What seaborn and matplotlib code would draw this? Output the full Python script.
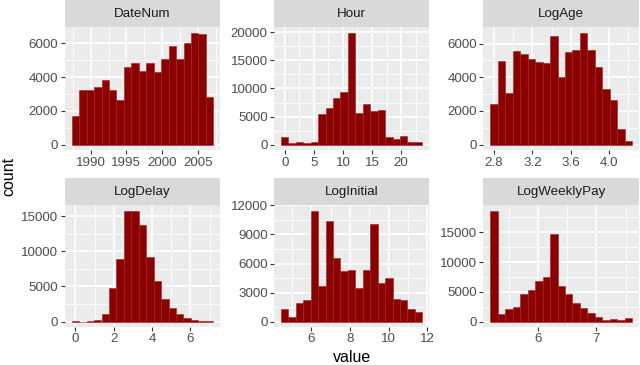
import numpy as np
import pandas as pd
import matplotlib
matplotlib.use("Agg")
import matplotlib.pyplot as plt
import seaborn as sns

plt.rcParams['font.family'] = ['Liberation Sans', 'DejaVu Sans']

# ---- data ----
variables = ["DateNum", "Hour", "LogAge", "LogDelay", "LogInitial", "LogWeeklyPay"]
# centre of first and last bin for each variable (19 bins each)
x_min = [1987.86, 0.0, 2.80, 0.0, 4.62, 5.236]
x_max = [2006.65, 23.0, 4.20, 7.0, 11.56, 7.551]

counts_datenum = [1683, 3228, 3208, 3386, 3822, 3248, 2673, 4594, 4812, 4337,
                  4812, 4297, 5069, 5822, 5050, 6020, 6614, 6574, 2812]
counts_hour = [1370, 300, 540, 300, 540, 5420, 6490, 8330, 9350, 19880,
               5650, 7200, 5950, 6250, 1310, 1010, 1490, 480, 420]
counts_logage = [2396, 4950, 3050, 5580, 5370, 5090, 4910, 4850, 6460, 4040,
                 5520, 5600, 6630, 5640, 4610, 3330, 2630, 910, 220]
counts_logdelay = [60, 10, 90, 200, 1090, 4780, 8900, 15760, 15760, 13720,
                   9180, 5770, 3270, 1940, 1090, 570, 280, 140, 80]
counts_loginitial = [1330, 480, 1970, 2240, 11450, 3670, 10430, 6530, 5230, 5300,
                     3430, 5300, 10100, 3940, 4550, 2310, 2240, 1260, 950]
counts_logweeklypay = [18600, 1220, 2050, 2380, 4590, 5370, 6750, 7470, 14720, 6030,
                       4590, 3210, 2320, 1440, 770, 280, 440, 330, 550]
all_counts = [counts_datenum, counts_hour, counts_logage,
              counts_logdelay, counts_loginitial, counts_logweeklypay]

x_ticks = [[1990, 1995, 2000, 2005], [0, 5, 10, 15, 20], [2.8, 3.2, 3.6, 4.0],
           [0, 2, 4, 6], [6, 8, 10, 12], [6, 7]]
x_tick_labels = [["1990", "1995", "2000", "2005"], ["0", "5", "10", "15", "20"],
                 ["2.8", "3.2", "3.6", "4.0"], ["0", "2", "4", "6"],
                 ["6", "8", "10", "12"], ["6", "7"]]
y_ticks = [[0, 2000, 4000, 6000], [0, 5000, 10000, 15000, 20000],
           [0, 2000, 4000, 6000], [0, 5000, 10000, 15000],
           [0, 3000, 6000, 9000, 12000], [0, 5000, 10000, 15000]]

x_title = "value"
y_title = "count"

# ---- style / layout ----
W, H = 640, 365
fig = plt.figure(figsize=(6.4, 3.65), dpi=100)
col_lr = [(64.6, 220.4), (273.9, 429.4), (483.2, 639.3)]
row_tb = [(27.3, 150.3), (205.2, 327.2)]
strip_h = 26.9
PANEL = "#EBEBEB"
STRIP = "#D9D9D9"
FILL = "#8B0000"


def minor_of(ticks):
    t = np.asarray(ticks, dtype=float)
    step = t[1] - t[0]
    return np.concatenate([[t[0] - step / 2], t[:-1] + step / 2, [t[-1] + step / 2]])


for i, var in enumerate(variables):
    r, c = divmod(i, 3)
    l, rgt = col_lr[c]
    top, bot = row_tb[r]
    ax = fig.add_axes([l / W, 1 - bot / H, (rgt - l) / W, (bot - top) / H])
    sax = fig.add_axes([l / W, 1 - top / H, (rgt - l) / W, strip_h / H])

    lo, hi = x_min[i], x_max[i]
    n = len(all_counts[i])
    w = (hi - lo) / (n - 1)
    df = pd.DataFrame({"value": np.linspace(lo, hi, n), "count": all_counts[i]})
    e0, e1 = lo - w / 2, hi + w / 2
    sns.histplot(data=df, x="value", weights="count", bins=n, binrange=(e0, e1),
                 ax=ax, color=FILL, edgecolor="#9E2222", linewidth=0.4, alpha=1.0)

    ax.set_facecolor(PANEL)
    for s in ax.spines.values():
        s.set_visible(False)
    ax.set_xticks(x_ticks[i])
    ax.set_xticklabels(x_tick_labels[i])
    ax.set_yticks(y_ticks[i])
    ax.set_yticklabels([str(v) for v in y_ticks[i]])
    ax.set_xticks(minor_of(x_ticks[i]), minor=True)
    ax.set_yticks(minor_of(y_ticks[i]), minor=True)

    span = e1 - e0
    ax.set_xlim(e0 - 0.05 * span, e1 + 0.05 * span)
    ymax = max(all_counts[i])
    ax.set_ylim(-0.05 * ymax, 1.05 * ymax)

    ax.grid(True, which="major", color="white", linewidth=1.2)
    ax.grid(True, which="minor", color="white", linewidth=0.6)
    ax.set_axisbelow(True)
    ax.tick_params(which="major", length=3, width=0.8, color="#333333",
                   labelcolor="#4D4D4D", labelsize=9.6, pad=1.5)
    ax.tick_params(which="minor", length=0)
    ax.set_xlabel("")
    ax.set_ylabel("")

    sax.set_facecolor(STRIP)
    sax.set_xticks([])
    sax.set_yticks([])
    for s in sax.spines.values():
        s.set_visible(False)
    sax.text(0.5, 0.5, var, ha="center", va="center", fontsize=9.6,
             color="#1A1A1A", transform=sax.transAxes)

fig.text(352 / W, 1 - 362.5 / H, x_title, ha="center", va="baseline",
         fontsize=11.5, color="black")
fig.text(8.5 / W, 1 - 176.5 / H, y_title, ha="center", va="center",
         rotation=90, fontsize=11.5, color="black")

fig.savefig("out.png", dpi=100, facecolor="white")
